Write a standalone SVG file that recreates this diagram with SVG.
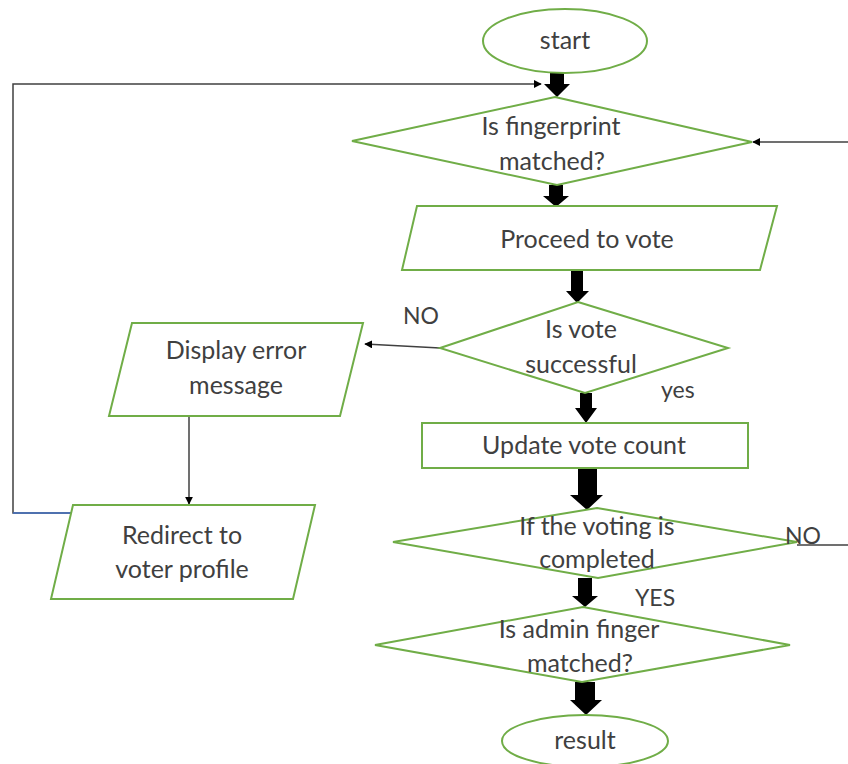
<svg xmlns="http://www.w3.org/2000/svg" width="848" height="764" viewBox="0 0 848 764">
<style>
.n{fill:#fff;stroke:#70ad47;stroke-width:2}
.t{font-family:Lato,"Open Sans",sans-serif;font-size:25px;fill:#404040;text-anchor:middle}
.l{font-family:Lato,"Open Sans",sans-serif;font-size:23px;fill:#404040}
.c{fill:none;stroke:#404040;stroke-width:1.5}
.f{fill:#000}
</style>
<defs>
<marker id="ah" viewBox="0 0 10 10" refX="9" refY="5" markerWidth="8" markerHeight="8" markerUnits="userSpaceOnUse" orient="auto"><path d="M0,0 L10,5 L0,10 z" fill="#000"/></marker>
</defs>
<rect width="848" height="764" fill="#fff"/>
<g id="connectors">
<polyline class="c" points="72,513 13,513 13,84 541,84" marker-end="url(#ah)"/>
<line x1="13" y1="513" x2="72" y2="513" stroke="#4472c4" stroke-width="1.5"/>
<line class="c" x1="848" y1="142" x2="753" y2="142" marker-end="url(#ah)"/>
<line class="c" x1="440" y1="348" x2="365" y2="344" marker-end="url(#ah)"/>
<line class="c" x1="189" y1="416" x2="189" y2="504" marker-end="url(#ah)"/>
<line class="c" x1="797" y1="545" x2="848" y2="545"/>
<polygon class="f" points="550,68 564,68 564,84 570,84 557,97 544,84 550,84"/>
<polygon class="f" points="549,185 563,185 563,196 569,196 556,207 543,196 549,196"/>
<polygon class="f" points="571,270 583,270 583,291 589,291 577,303 566,291 571,291"/>
<polygon class="f" points="580,393 592,393 592,408 597,408 586,423 575,408 580,408"/>
<polygon class="f" points="578,468 597,468 597,495 603,495 587,510 570,495 578,495"/>
<polygon class="f" points="578,578 592,578 592,596 598,596 585,607 572,596 578,596"/>
<polygon class="f" points="575,682 595,682 595,700 602,700 586,715 570,700 575,700"/>
</g>
<g id="start"><ellipse class="n" cx="565" cy="41" rx="82" ry="32"/><text class="t" x="565" y="49">start</text></g>
<g id="fingerprint"><polygon class="n" points="555,97 752,142 557,185 352,141"/><text class="t" x="551" y="135">Is fingerprint</text><text class="t" x="552" y="170">matched?</text></g>
<g id="proceed"><polygon class="n" points="417,206 777,206 760,270 402,270"/><text class="t" x="587" y="248">Proceed to vote</text></g>
<g id="isvote"><polygon class="n" points="578,302 728,348 585,393 440,348"/><text class="t" x="581" y="338">Is vote</text><text class="t" x="581" y="373">successful</text></g>
<g id="update"><rect class="n" x="422" y="423" width="326" height="45"/><text class="t" x="584" y="454">Update vote count</text></g>
<g id="votingdone"><polygon class="n" points="597,508 797,542 598,578 393,542"/><text class="t" x="597" y="535">If the voting is</text><text class="t" x="597" y="568">completed</text></g>
<g id="admin"><polygon class="n" points="583,607 790,645 582,682 375,645"/><text class="t" x="579" y="638">Is admin finger</text><text class="t" x="580" y="672">matched?</text></g>
<g id="result"><ellipse class="n" cx="585" cy="741" rx="83" ry="26"/><text class="t" x="585" y="749">result</text></g>
<g id="error"><polygon class="n" points="132,323 363,323 340,416 109,416"/><text class="t" x="236" y="359">Display error</text><text class="t" x="236" y="394">message</text></g>
<g id="redirect"><polygon class="n" points="73,505 315,505 293,599 51,599"/><text class="t" x="182" y="544">Redirect to</text><text class="t" x="182" y="578">voter profile</text></g>
<g id="labels">
<text class="l" x="403" y="324">NO</text>
<text class="l" x="661" y="398">yes</text>
<text class="l" x="785" y="544">NO</text>
<text class="l" x="635" y="606">YES</text>
</g>
</svg>
